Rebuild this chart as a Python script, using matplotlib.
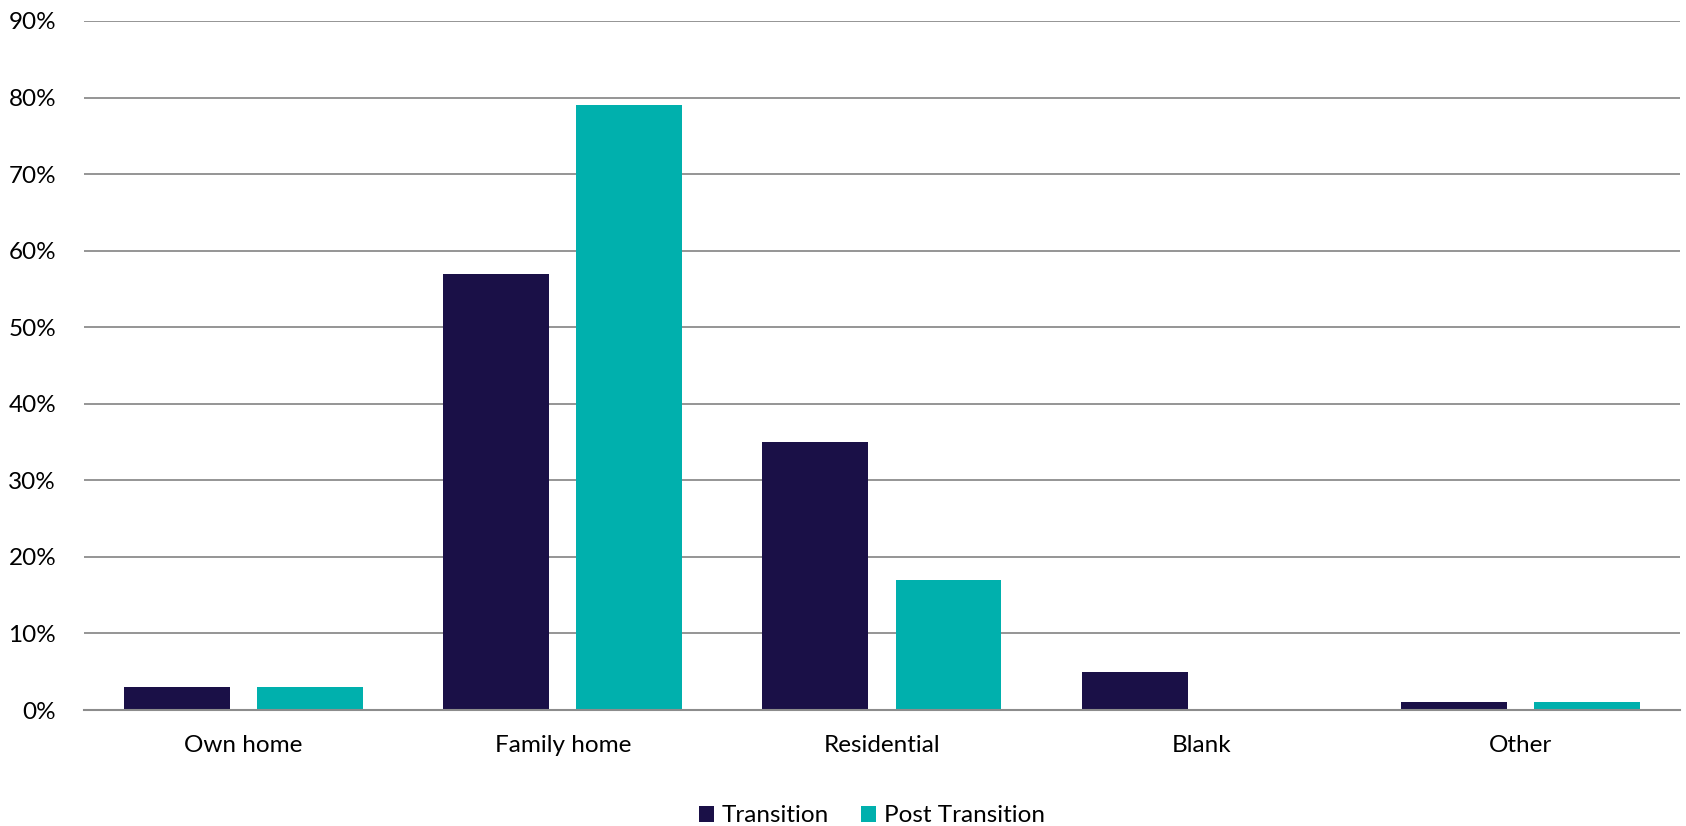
import numpy as np
import matplotlib.pyplot as plt
from matplotlib.ticker import FuncFormatter

plt.rcParams['font.family'] = ['Lato', 'DejaVu Sans']

# data (percent)
categories = ["Own home", "Family home", "Residential", "Blank", "Other"]
transition = [3, 57, 35, 5, 1]
post_transition = [3, 79, 17, 0, 1]

navy = "#1a1047"
teal = "#00b0ad"
grid_col = "#8c8c8c"

fig = plt.figure(figsize=(16.86, 8.26), dpi=100)
ax = fig.add_axes([0.0498, 0.1404, 0.9466, 0.8342])

x = np.arange(len(categories))
w = 0.332
off = 0.2085
ax.bar(x - off, transition, w, color=navy, label="Transition", zorder=3)
ax.bar(x + off, post_transition, w, color=teal, label="Post Transition", zorder=3)

ax.set_xlim(-0.5, len(categories) - 0.5)
ax.set_ylim(0, 90)
ax.set_yticks(np.arange(0, 91, 10))
ax.yaxis.set_major_formatter(FuncFormatter(lambda v, p: "%d%%" % v))
ax.yaxis.grid(True, color=grid_col, lw=1.3, zorder=0)

for s in ["top", "right", "left"]:
    ax.spines[s].set_visible(False)
ax.spines["bottom"].set_color(grid_col)
ax.spines["bottom"].set_linewidth(1.5)
ax.spines["bottom"].set_zorder(4)

ax.set_xticks(x)
ax.set_xticklabels(categories)
ax.tick_params(axis="both", length=0, labelsize=17.5)
ax.tick_params(axis="x", pad=18)
ax.tick_params(axis="y", pad=20)

fig.legend(loc="lower center", bbox_to_anchor=(0.517, -0.027), ncol=2, frameon=False,
           fontsize=17.5, handlelength=0.65, handleheight=0.65, columnspacing=1.3,
           handletextpad=0.3)

plt.savefig("out.png", dpi=100)
